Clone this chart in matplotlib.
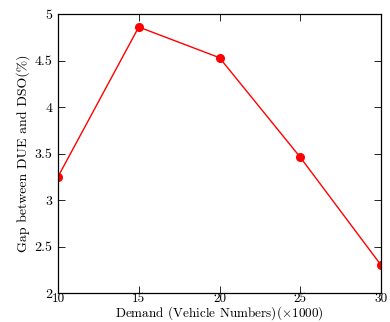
import numpy as np
import matplotlib
matplotlib.use('Agg')
import matplotlib.pyplot as plt

# donnees
demand = [10, 15, 20, 25, 30]
gap = [3.25, 4.86, 4.53, 3.46, 2.30]
xticks = [10, 15, 20, 25, 30]
yticks = [2, 2.5, 3, 3.5, 4, 4.5, 5]

plt.rcParams['font.family'] = 'serif'
plt.rcParams['font.serif'] = ['cmr10']
plt.rcParams['mathtext.fontset'] = 'cm'
plt.rcParams['axes.formatter.use_mathtext'] = True

fig = plt.figure(figsize=(3.9, 3.22), dpi=100)
ax = fig.add_axes([58/390, 29/322, 323/390, 279/322])
ax.plot(demand, gap, color='red', linewidth=1.0, marker='o', markersize=5.5)

ax.set_xlim(10, 30)
ax.set_ylim(2, 5)
ax.set_xticks(xticks)
ax.set_yticks(yticks)
ax.set_xticklabels([str(t) for t in xticks])
ax.set_yticklabels([('%g' % t) for t in yticks])
ax.tick_params(direction='in', top=True, right=True, length=5, width=0.6,
               labelsize=10)
ax.tick_params(axis='x', pad=0, labelsize=9.5)
ax.tick_params(axis='y', pad=4)
for s in ax.spines.values():
    s.set_linewidth(0.9)

ax.set_xlabel(r'Demand (Vehicle Numbers)($\times$1000)', fontsize=9.5, labelpad=-0.5)
ax.set_ylabel('Gap between DUE and DSO(%)', fontsize=10, labelpad=3)

fig.savefig('out.png', dpi=100)
